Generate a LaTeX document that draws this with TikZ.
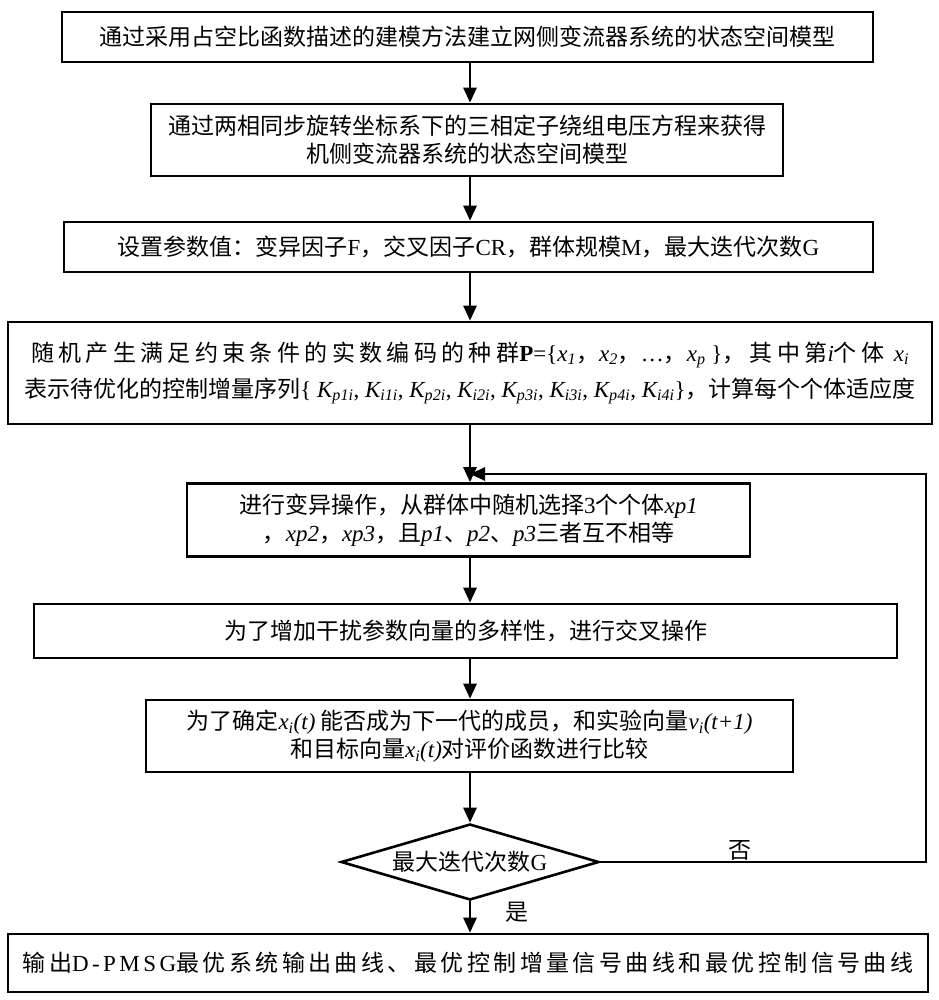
\documentclass[tikz,border=0pt]{standalone}
\usepackage{fontspec}
\setmainfont{Liberation Serif}
\newfontfamily\cjk{Noto Sans CJK SC}
\newfontfamily\tm{Liberation Serif}
\usetikzlibrary{arrows.meta,shapes.geometric}
\newcommand\ital[1]{{\tm\itshape #1}}
\newcommand\lsub[2]{{\tm\itshape #1}\textsubscript{\tm\itshape #2}}
\begin{document}
\begin{tikzpicture}[x=1pt,y=-1pt,
  box/.style={draw,line width=2.6pt,inner sep=0pt,align=center,font=\cjk\fontsize{23}{28}\selectfont},
  arr/.style={line width=2.6pt,-{Triangle[length=15pt,width=13pt]}},
  lbl/.style={font=\cjk\fontsize{23}{28}\selectfont}]
\useasboundingbox (0,0) rectangle (938,1000);
\node[box,minimum width=811pt,minimum height=50pt] (b1) at (467.5,37)
  {通过采用占空比函数描述的建模方法建立网侧变流器系统的状态空间模型};
\node[box,minimum width=632pt,minimum height=72pt] (b2) at (467,140)
  {通过两相同步旋转坐标系下的三相定子绕组电压方程来获得\\机侧变流器系统的状态空间模型};
\node[box,minimum width=809pt,minimum height=50pt] (b3) at (468.5,247)
  {设置参数值：变异因子{\tm F}，交叉因子{\tm CR}，群体规模{\tm M}，最大迭代次数{\tm G}};
\node[box,minimum width=924pt,minimum height=102pt] (b4) at (470,373)
  {{\addfontfeature{LetterSpace=19}随机产生满足约束条件的实数编码的种群{\tm\bfseries P}{\tm =\{}\lsub{x}{1}{\addfontfeature{LetterSpace=19}，}\lsub{x}{2}{\addfontfeature{LetterSpace=19}，}{\tm …}{\addfontfeature{LetterSpace=19}，}\lsub{x}{p}{\tm\ \}}{\addfontfeature{LetterSpace=19}，其中第}\ital{i}{\addfontfeature{LetterSpace=19}个体} \lsub{x}{i}}\\[8pt]
   表示待优化的控制增量序列{\tm\{ }\lsub{K}{p1i}{\tm , }\lsub{K}{i1i}{\tm , }\lsub{K}{p2i}{\tm , }\lsub{K}{i2i}{\tm , }\lsub{K}{p3i}{\tm , }\lsub{K}{i3i}{\tm , }\lsub{K}{p4i}{\tm , }\lsub{K}{i4i}{\tm \}}，计算每个个体适应度};
\node[box,minimum width=563pt,minimum height=73pt] (b5) at (468.5,520)
  {进行变异操作，从群体中随机选择{\tm 3}个个体\ital{xp1}\\，\ital{xp2}，\ital{xp3}，且\ital{p1}、\ital{p2}、\ital{p3}三者互不相等};
\node[box,minimum width=863pt,minimum height=54pt] (b6) at (465.5,631)
  {为了增加干扰参数向量的多样性，进行交叉操作};
\node[box,minimum width=647pt,minimum height=72pt] (b7) at (469.5,736)
  {为了确定\lsub{x}{i}\ital{(t)} 能否成为下一代的成员，和实验向量\lsub{v}{i}\ital{(t+1)}\\和目标向量\lsub{x}{i}\ital{(t)}对评价函数进行比较};
\node[draw,line width=2.6pt,diamond,aspect=3.4,minimum width=258pt,minimum height=76pt,inner sep=0pt,font=\cjk\fontsize{23}{28}\selectfont] (d) at (470,862)
  {最大迭代次数{\tm G}};
\node[box,minimum width=920pt,minimum height=58pt] (b8) at (468,963)
  {\addfontfeature{LetterSpace=15}输出{\tm\addfontfeature{LetterSpace=15} D-PMSG}最优系统输出曲线、最优控制增量信号曲线和最优控制信号曲线};
\coordinate (fr) at (926,474);
\coordinate (fj) at (470,474);
\draw[arr] (b1.south -| d.center) -- (b2.north -| d.center);
\draw[arr] (b2.south -| d.center) -- (b3.north -| d.center);
\draw[arr] (b3.south -| d.center) -- (b4.north -| d.center);
\draw[arr] (b4.south -| d.center) -- (b5.north -| d.center);
\draw[arr] (b5.south -| d.center) -- (b6.north -| d.center);
\draw[arr] (b6.south -| d.center) -- (b7.north -| d.center);
\draw[arr] (b7.south -| d.center) -- (d.north);
\draw[arr] (d.south) -- (b8.north -| d.center);
\draw[arr] (d.east) -| (fr) -- (fj);
\node[lbl] (no) at (740,850) {否};
\node[lbl] (yes) at (517,912) {是};
\end{tikzpicture}
\end{document}
